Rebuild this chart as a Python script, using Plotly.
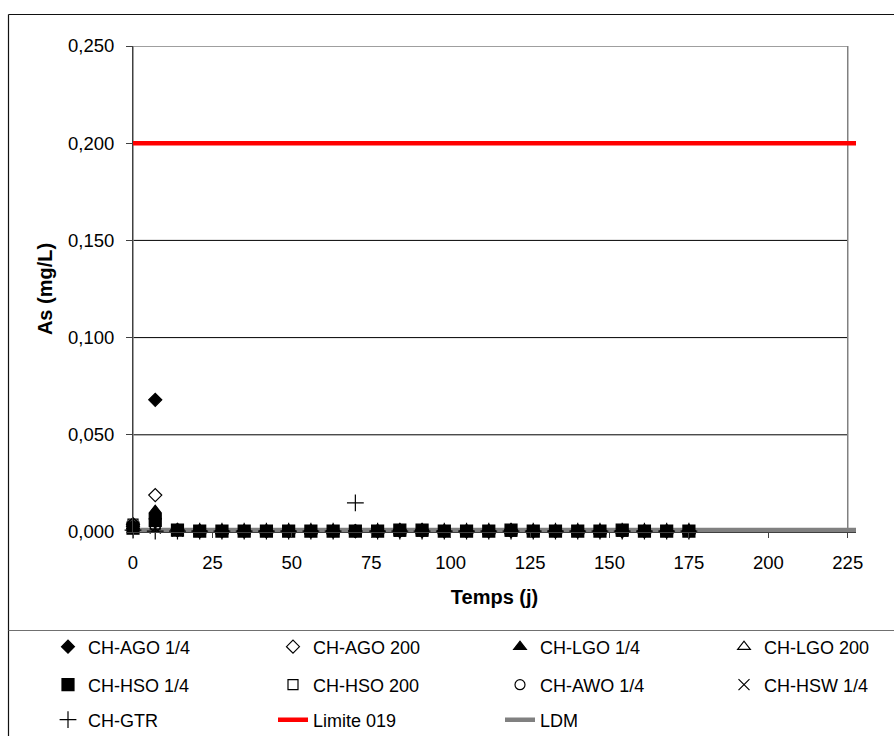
import plotly.graph_objects as go

# ---------------- data ----------------
DAYS = [0, 7, 14, 21, 28, 35, 42, 49, 56, 63, 70, 77, 84, 91, 98, 105,
        112, 119, 126, 133, 140, 147, 154, 161, 168, 175]

AGO_14 = [0.003, 0.068, 0.001, 0.0005, 0.0005, 0.0005, 0.0005, 0.0005, 0.0005, 0.0005,
          0.0005, 0.0005, 0.001, 0.001, 0.0005, 0.0005, 0.0005, 0.001, 0.0005, 0.0005,
          0.0005, 0.0005, 0.0005, 0.0005, 0.0005, 0.0005]
AGO_200 = [0.004, 0.019, 0.001, 0.0005, 0.0005, 0.0005, 0.0005, 0.0005, 0.0005, 0.0005,
           0.0005, 0.0005, 0.0005, 0.0005, 0.0005, 0.0005, 0.0005, 0.0005, 0.0005, 0.0005,
           0.0005, 0.0005, 0.0005, 0.0005, 0.0005, 0.0005]
LGO_14 = [0.003, 0.011, 0.001, 0.001, 0.0005, 0.0005, 0.0005, 0.0005, 0.0005, 0.0005,
          0.0005, 0.0005, 0.001, 0.001, 0.0005, 0.0005, 0.0005, 0.001, 0.0005, 0.0005,
          0.0005, 0.0005, 0.001, 0.0005, 0.0005, 0.0005]
LGO_200 = [0.003, 0.008, 0.001, 0.0005, 0.0005, 0.0005, 0.0005, 0.0005, 0.0005, 0.0005,
           0.0005, 0.0005, 0.0005, 0.0005, 0.0005, 0.0005, 0.0005, 0.0005, 0.0005, 0.0005,
           0.0005, 0.0005, 0.0005, 0.0005, 0.0005, 0.0005]
HSO_14 = [0.002, 0.006, 0.001, 0.0005, 0.0005, 0.0005, 0.0005, 0.0005, 0.0005, 0.0005,
          0.0005, 0.0005, 0.001, 0.001, 0.0005, 0.0005, 0.0005, 0.001, 0.0005, 0.0005,
          0.0005, 0.0005, 0.001, 0.0005, 0.0005, 0.0005]
HSO_200 = [0.004, 0.004, 0.001, 0.0005, 0.0005, 0.0005, 0.0005, 0.0005, 0.0005, 0.0005,
           0.0005, 0.0005, 0.0005, 0.0005, 0.0005, 0.0005, 0.0005, 0.0005, 0.0005, 0.0005,
           0.0005, 0.0005, 0.0005, 0.0005, 0.0005, 0.0005]
AWO_14 = [0.004, 0.003, 0.001, 0.0005, 0.0005, 0.0005, 0.0005, 0.0005, 0.0005, 0.0005,
          0.0005, 0.0005, 0.0005, 0.0005, 0.0005, 0.0005, 0.0005, 0.0005, 0.0005, 0.0005,
          0.0005, 0.0005, 0.0005, 0.0005, 0.0005, 0.0005]
HSW_14 = [0.002, 0.002, 0.0005, 0.0005, 0.0005, 0.0005, 0.0005, 0.0005, 0.0005, 0.0005,
          0.0005, 0.0005, 0.0005, 0.0005, 0.0005, 0.0005, 0.0005, 0.0005, 0.0005, 0.0005,
          0.0005, 0.0005, 0.0005, 0.0005, 0.0005, 0.0005]
GTR = [0.001, 0.0005, 0.0005, 0.0005, 0.0005, 0.0005, 0.0005, 0.0005, 0.0005, 0.0005,
       0.015, 0.0005, 0.0005, 0.0005, 0.0005, 0.0005, 0.0005, 0.0005, 0.0005, 0.0005,
       0.0005, 0.0005, 0.0005, 0.0005, 0.0005, 0.0005]

LINE_X = [0, 228]
LIMITE_019 = [0.200, 0.200]
LDM = [0.001, 0.001]

X_TICKS = [0, 25, 50, 75, 100, 125, 150, 175, 200, 225]
Y_TICKS = [0.000, 0.050, 0.100, 0.150, 0.200, 0.250]

# ---------------- layout geometry ----------------
W, H = 894, 736
ML, MR, MT, MB = 133, 38, 46, 204
PW, PH = W - ML - MR, H - MT - MB
X_RANGE = [0, 227.6]
FONT = "Liberation Sans, Arial, sans-serif"
LEG_COLS = [48, 273, 500, 724]   # legend item left edges (px)
LEG_ROWS = [647, 685, 720]       # legend row centres (px)


def xp(px):
    return (px - ML) / PW


def yp(py):
    return (H - MB - py) / PH


fig = go.Figure()

# name, values, symbol, size, (row, col)
series = [
    ("CH-AGO 1/4", AGO_14, "diamond", 10, (0, 0)),
    ("CH-AGO 200", AGO_200, "diamond-open", 10, (0, 1)),
    ("CH-LGO 1/4", LGO_14, "triangle-up", 11, (0, 2)),
    ("CH-LGO 200", LGO_200, "triangle-up-open", 11, (0, 3)),
    ("CH-HSO 1/4", HSO_14, "square", 12, (1, 0)),
    ("CH-HSO 200", HSO_200, "square-open", 10, (1, 1)),
    ("CH-AWO 1/4", AWO_14, "circle-open", 10, (1, 2)),
    ("CH-HSW 1/4", HSW_14, "x-thin-open", 11, (1, 3)),
    ("CH-GTR", GTR, "cross-thin-open", 12, (2, 0)),
]

legend_layouts = {}
leg_counter = [0]


def new_legend(row, col):
    leg_counter[0] += 1
    key = "legend" if leg_counter[0] == 1 else f"legend{leg_counter[0]}"
    legend_layouts[key] = dict(
        orientation="v", x=xp(LEG_COLS[col]), y=yp(LEG_ROWS[row]),
        xanchor="left", yanchor="middle",
        font=dict(family=FONT, size=18, color="black"),
        bgcolor="rgba(0,0,0,0)", borderwidth=0,
        itemclick=False, itemdoubleclick=False)
    return key


# lines first so markers sit on top
fig.add_trace(go.Scatter(x=LINE_X, y=LDM, mode="lines", name="LDM",
                         line=dict(color="#808080", width=4.5),
                         legend=new_legend(2, 2)))
fig.add_trace(go.Scatter(x=LINE_X, y=LIMITE_019, mode="lines", name="Limite 019",
                         line=dict(color="#ff0000", width=4.5),
                         legend=new_legend(2, 1)))

for name, vals, sym, size, (r, c) in series:
    fig.add_trace(go.Scatter(
        x=DAYS, y=vals, mode="markers", name=name,
        marker=dict(symbol=sym, size=size, color="black",
                    line=dict(color="black", width=1.2)),
        legend=new_legend(r, c), cliponaxis=False))

# gridlines & plot frame
shapes = []
for v in Y_TICKS[1:-1]:
    shapes.append(dict(type="line", xref="x", yref="y", x0=X_TICKS[0], x1=X_TICKS[-1],
                       y0=v, y1=v, line=dict(color="black", width=1), layer="below"))
shapes.append(dict(type="rect", xref="x", yref="y", x0=X_TICKS[0], x1=X_TICKS[-1],
                   y0=Y_TICKS[0], y1=Y_TICKS[-1], line=dict(color="#808080", width=1.5),
                   layer="below"))
# outer chart border and legend separator
shapes.append(dict(type="line", xref="paper", yref="paper", x0=xp(8.5), x1=xp(8.5),
                   y0=yp(14.5), y1=yp(745), line=dict(color="#111", width=1.2)))
shapes.append(dict(type="line", xref="paper", yref="paper", x0=xp(8.5), x1=xp(900),
                   y0=yp(14.5), y1=yp(14.5), line=dict(color="#111", width=1.2)))
shapes.append(dict(type="line", xref="paper", yref="paper", x0=xp(8.5), x1=xp(900),
                   y0=yp(630.5), y1=yp(630.5), line=dict(color="#707070", width=1.2)))

fig.update_layout(
    width=W, height=H,
    margin=dict(l=ML, r=MR, t=MT, b=MB, pad=0, autoexpand=False),
    paper_bgcolor="white", plot_bgcolor="white",
    separators=", ",
    font=dict(family=FONT, size=18.5, color="black"),
    shapes=shapes,
    showlegend=True,
    xaxis=dict(range=X_RANGE, tickvals=X_TICKS, showgrid=False, zeroline=False,
               showline=True, linecolor="#404040", linewidth=1,
               ticks="outside", ticklen=5, tickcolor="#404040",
               tickfont=dict(family=FONT, size=18.5, color="black"),
               ticklabelstandoff=9,
               title=dict(text="<b>Temps (j)</b>", standoff=17,
                          font=dict(family=FONT, size=20, color="black"))),
    yaxis=dict(range=[Y_TICKS[0], Y_TICKS[-1]], tickvals=Y_TICKS, tickformat=".3f",
               showgrid=False, zeroline=False,
               showline=True, linecolor="#404040", linewidth=1,
               ticks="outside", ticklen=6, tickcolor="#404040",
               tickfont=dict(family=FONT, size=18.5, color="black"),
               ticklabelstandoff=8,
               title=dict(text="<b>As (mg/L)</b>", standoff=10,
                          font=dict(family=FONT, size=20, color="black"))),
)
fig.update_layout(**legend_layouts)

fig.write_html("out.html")
